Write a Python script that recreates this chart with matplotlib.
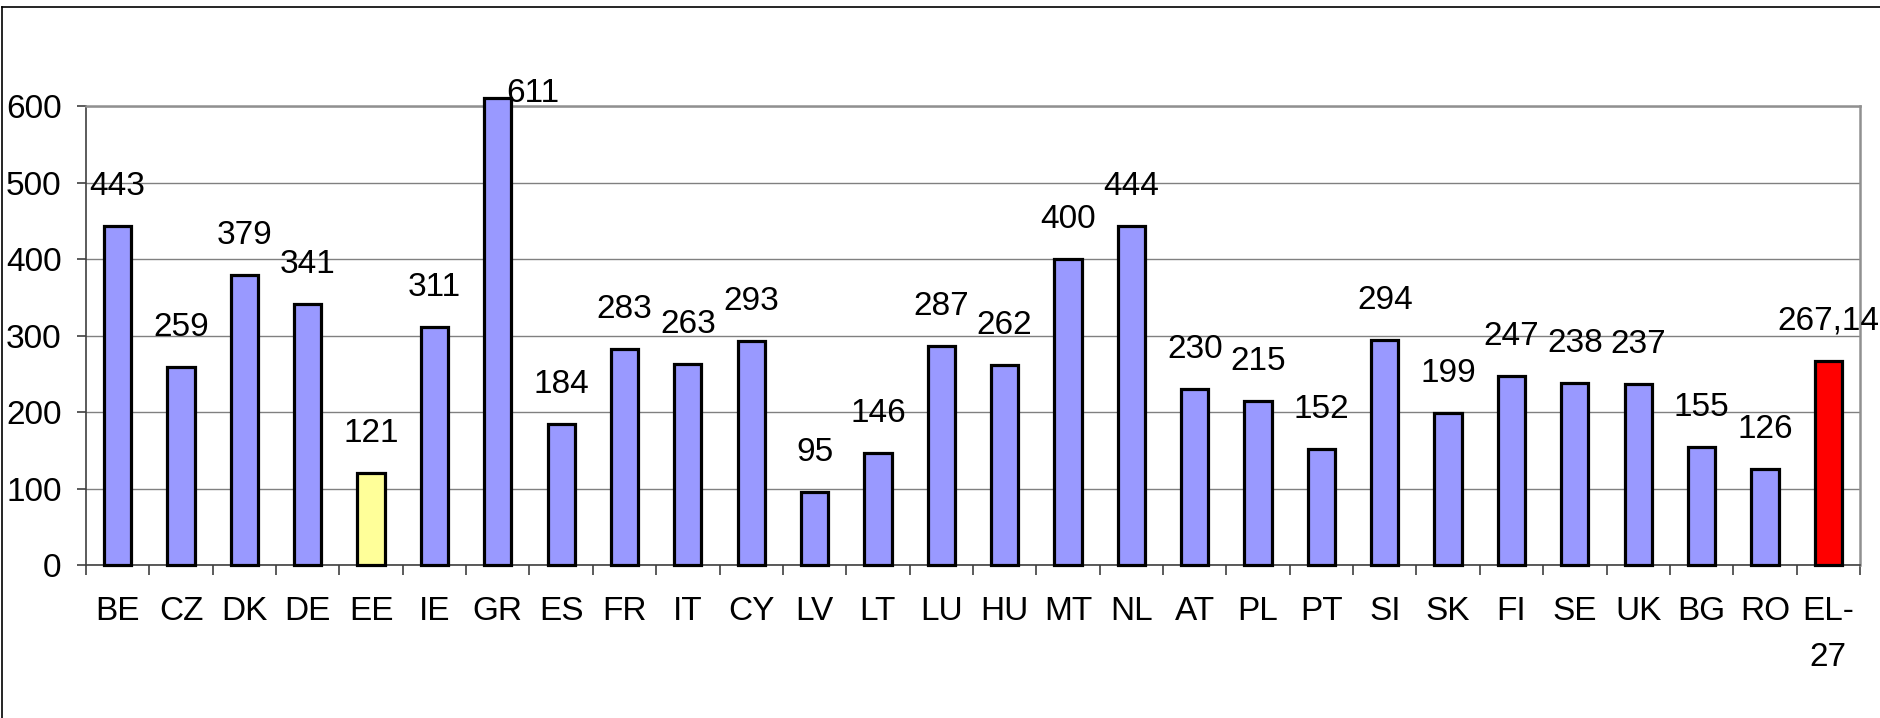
import matplotlib
matplotlib.use("Agg")
import matplotlib.pyplot as plt
from matplotlib.lines import Line2D

categories = ["BE", "CZ", "DK", "DE", "EE", "IE", "GR", "ES", "FR", "IT", "CY", "LV", "LT", "LU",
              "HU", "MT", "NL", "AT", "PL", "PT", "SI", "SK", "FI", "SE", "UK", "BG", "RO", "EL-\n27"]
values = [443, 259, 379, 341, 121, 311, 611, 184, 283, 263, 293, 95, 146, 287,
          262, 400, 444, 230, 215, 152, 294, 199, 247, 238, 237, 155, 126, 267.14]
value_labels = ["443", "259", "379", "341", "121", "311", "611", "184", "283", "263", "293", "95",
                "146", "287", "262", "400", "444", "230", "215", "152", "294", "199", "247", "238",
                "237", "155", "126", "267,14"]
special_colors = {"EE": "#FFFF99", "EL-\n27": "#FF0000"}
base_color = "#9999FF"
yticks = [0, 100, 200, 300, 400, 500, 600]

plt.rcParams['font.family'] = ['Liberation Sans', 'DejaVu Sans']
FS = 24

fig = plt.figure(figsize=(18.81, 7.18), dpi=100)
ax = fig.add_axes([0.0457, 0.2131, 0.9431, 0.6386])

x = list(range(len(categories)))
colors = [special_colors.get(c, base_color) for c in categories]
bars = ax.bar(x, values, width=0.43, color=colors, edgecolor="black", linewidth=2.3,
              clip_on=False, zorder=3)

for i, (v, lab) in enumerate(zip(values, value_labels)):
    if v > yticks[-1]:
        dx, dy = 35, -4
    else:
        dx, dy = 0, 31
    ax.annotate(lab, (i, v), xytext=(dx, dy), textcoords="offset pixels",
                ha="center", va="baseline", fontsize=FS, color="black", zorder=4,
                annotation_clip=False)

ax.set_xlim(-0.5, len(categories) - 0.5)
ax.set_ylim(0, 600)
ax.set_yticks(yticks)
ax.set_yticklabels([str(t) for t in yticks], fontsize=FS)
ax.set_xticks(x)
ax.set_xticklabels(categories, fontsize=FS, linespacing=1.64)
ax.set_xticks([i - 0.5 for i in range(len(categories) + 1)], minor=True)

ax.tick_params(axis="x", which="major", length=0, pad=22)
ax.tick_params(axis="x", which="minor", length=7, width=1.2, color="#404040", direction="out")
ax.tick_params(axis="y", length=6.5, width=1.2, color="#404040", pad=11)

ax.yaxis.grid(True, color="#808080", linewidth=1.0, zorder=0)
ax.set_axisbelow(True)

for s in ["top", "right"]:
    ax.spines[s].set_color("#909090")
    ax.spines[s].set_linewidth(1.8)
for s in ["left", "bottom"]:
    ax.spines[s].set_color("#404040")
    ax.spines[s].set_linewidth(1.2)

# outer chart border (top and left visible)
W, H = 1881, 718
fig.add_artist(Line2D([2 / W, 1.0], [1 - 6.5 / H, 1 - 6.5 / H], color="black", linewidth=1.2,
                      transform=fig.transFigure))
fig.add_artist(Line2D([2 / W, 2 / W], [0.0, 1 - 6.5 / H], color="black", linewidth=1.2,
                      transform=fig.transFigure))

fig.savefig("out.png", dpi=100, facecolor="white")
